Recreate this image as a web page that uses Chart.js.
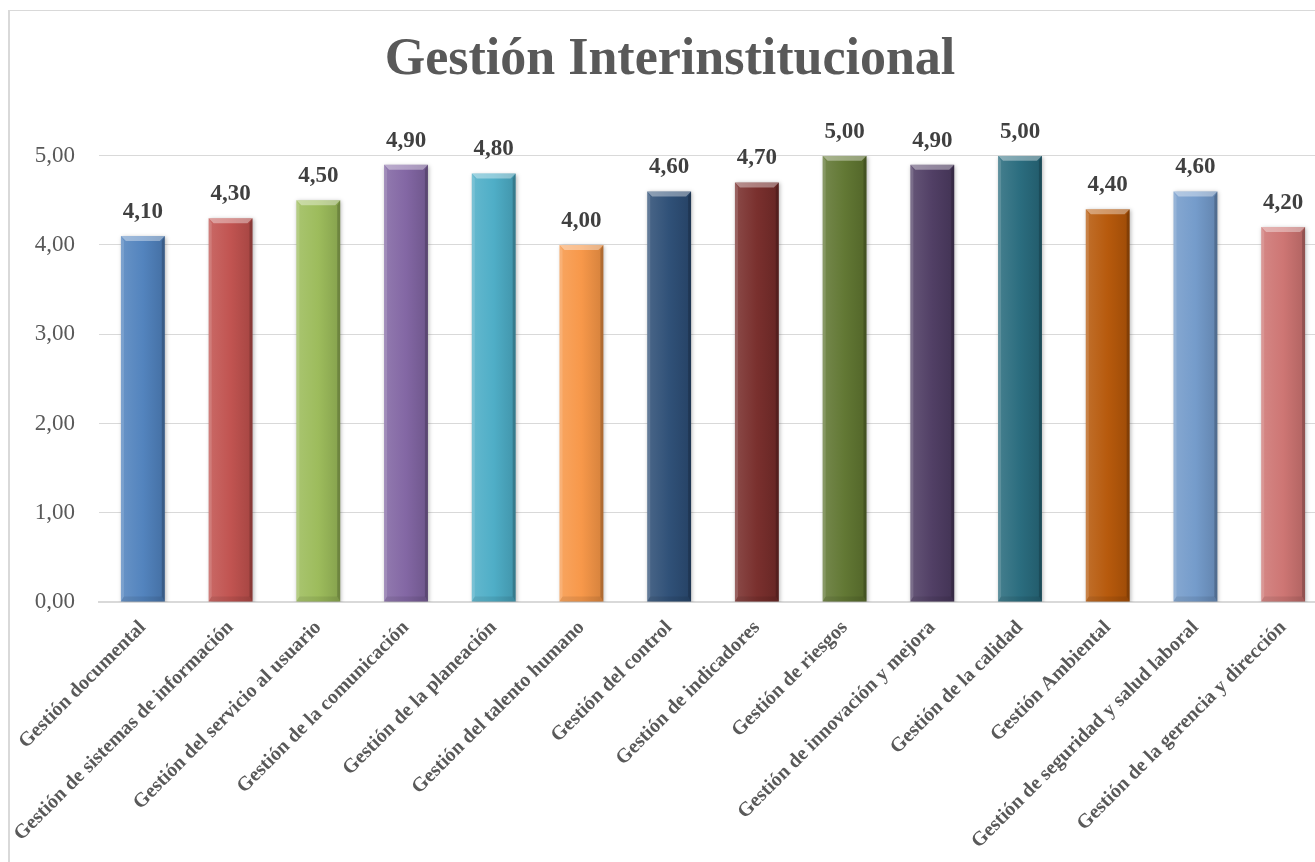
<!DOCTYPE html>
<html>
<head>
<meta charset="utf-8">
<script src="https://cdn.jsdelivr.net/npm/chart.js@4.4.1/dist/chart.umd.min.js"></script>
<style>
  html, body { margin: 0; padding: 0; background: #ffffff; overflow: hidden; width: 1315px; height: 862px; }
  #frame { position: absolute; left: 8px; top: 10px; width: 1400px; height: 900px;
           border-left: 2px solid #d9d9d9; border-top: 1px solid #d9d9d9; box-sizing: border-box; }
  #c { position: absolute; left: 0; top: 0; }
</style>
</head>
<body>
<div id="frame"></div>
<canvas id="c" width="1340" height="862"></canvas>
<script>
const chartTitle = "Gestión Interinstitucional";
const categories = [
  "Gestión documental",
  "Gestión de sistemas de información",
  "Gestión del servicio al usuario",
  "Gestión de la comunicación",
  "Gestión de la planeación",
  "Gestión del talento humano",
  "Gestión del control",
  "Gestión de indicadores",
  "Gestión de riesgos",
  "Gestión de innovación y mejora",
  "Gestión de la calidad",
  "Gestión Ambiental",
  "Gestión de seguridad y salud laboral",
  "Gestión de la gerencia y dirección"
];
const values = [4.10, 4.30, 4.50, 4.90, 4.80, 4.00, 4.60, 4.70, 5.00, 4.90, 5.00, 4.40, 4.60, 4.20];
const barColors = ["#4F81BD", "#C0504D", "#9BBB59", "#8064A2", "#4BACC6", "#F79646",
                   "#2C4D75", "#772C2A", "#5F7530", "#4D3B62", "#276A7C", "#B65708",
                   "#729ACA", "#CD7371"];
const yTicks = [0, 1, 2, 3, 4, 5];

function fmt(v) { return v.toFixed(2).replace('.', ','); }

function shade(hex, amt) {
  const n = parseInt(hex.slice(1), 16);
  let r = (n >> 16) & 255, g = (n >> 8) & 255, b = n & 255;
  if (amt >= 0) { r += (255 - r) * amt; g += (255 - g) * amt; b += (255 - b) * amt; }
  else { r *= (1 + amt); g *= (1 + amt); b *= (1 + amt); }
  return 'rgb(' + Math.round(r) + ',' + Math.round(g) + ',' + Math.round(b) + ')';
}

const SERIF = "'Liberation Serif', 'Times New Roman', serif";

const bevelPlugin = {
  id: 'bevel',
  beforeDatasetsDraw(chart) {
    const ctx = chart.ctx;
    ctx.save();
    ctx.shadowColor = 'rgba(0,0,0,0.28)';
    ctx.shadowBlur = 4;
    ctx.shadowOffsetX = 1;
    ctx.shadowOffsetY = 1;
  },
  afterDatasetsDraw(chart) {
    const ctx = chart.ctx;
    ctx.restore();
    const meta = chart.getDatasetMeta(0);
    meta.data.forEach((bar) => {
      const l = bar.x - bar.width / 2, r = bar.x + bar.width / 2;
      const t = bar.y, b = bar.base, e = 5;
      ctx.save();
      ctx.fillStyle = 'rgba(255,255,255,0.38)';
      ctx.beginPath(); ctx.moveTo(l, t); ctx.lineTo(r, t); ctx.lineTo(r - e, t + e); ctx.lineTo(l + e, t + e); ctx.closePath(); ctx.fill();
      ctx.fillStyle = 'rgba(255,255,255,0.14)';
      ctx.beginPath(); ctx.moveTo(l, t); ctx.lineTo(l + 3, t + e); ctx.lineTo(l + 3, b - e); ctx.lineTo(l, b); ctx.closePath(); ctx.fill();
      ctx.fillStyle = 'rgba(0,0,0,0.18)';
      ctx.beginPath(); ctx.moveTo(r, t); ctx.lineTo(r - 3, t + e); ctx.lineTo(r - 3, b - e); ctx.lineTo(r, b); ctx.closePath(); ctx.fill();
      ctx.fillStyle = 'rgba(0,0,0,0.08)';
      ctx.beginPath(); ctx.moveTo(l, b); ctx.lineTo(r, b); ctx.lineTo(r - 3, b - e); ctx.lineTo(l + 3, b - e); ctx.closePath(); ctx.fill();
      ctx.restore();
    });
  }
};

const valueLabelPlugin = {
  id: 'valueLabels',
  afterDraw(chart) {
    const ctx = chart.ctx;
    const meta = chart.getDatasetMeta(0);
    ctx.save();
    ctx.font = "bold 23px " + SERIF;
    ctx.fillStyle = '#404040';
    ctx.textAlign = 'center';
    ctx.textBaseline = 'middle';
    meta.data.forEach((bar, i) => {
      ctx.fillText(fmt(values[i]), bar.x, bar.y - 24);
    });
    ctx.restore();
  }
};

new Chart(document.getElementById('c'), {
  type: 'bar',
  data: {
    labels: categories,
    datasets: [{
      data: values,
      backgroundColor: (c) => {
        const base = barColors[c.dataIndex] || barColors[0];
        const chart = c.chart;
        if (c.dataIndex === undefined || !chart.chartArea || !chart.scales.x) return base;
        const xs = chart.scales.x;
        const cx = xs.getPixelForValue(c.dataIndex);
        const half = (xs.width / categories.length) * 0.25;
        if (!isFinite(cx) || !isFinite(half)) return base;
        const g = chart.ctx.createLinearGradient(cx - half, 0, cx + half, 0);
        g.addColorStop(0, shade(base, 0.14));
        g.addColorStop(0.5, shade(base, 0.02));
        g.addColorStop(1, shade(base, -0.14));
        return g;
      },
      borderWidth: 0,
      barPercentage: 0.5,
      categoryPercentage: 1.0
    }]
  },
  options: {
    responsive: false,
    animation: false,
    devicePixelRatio: 1,
    layout: { padding: { left: 13, right: 13, top: 0, bottom: 0 } },
    plugins: {
      legend: { display: false },
      tooltip: { enabled: false },
      title: {
        display: true,
        text: chartTitle,
        color: '#595959',
        font: { family: SERIF, size: 52, weight: 'bold', lineHeight: 1.2 },
        padding: { top: 29, bottom: 64.3 }
      }
    },
    scales: {
      x: {
        grid: { display: false, drawTicks: false },
        border: { display: true, color: '#d9d9d9', width: 2 },
        ticks: {
          autoSkip: false,
          maxRotation: 45,
          minRotation: 45,
          padding: 14,
          color: '#595959',
          font: { family: SERIF, size: 20, weight: 'bold' }
        },
        afterFit(scale) { scale.height = 260; }
      },
      y: {
        min: 0,
        max: 5,
        afterBuildTicks(scale) { scale.ticks = yTicks.map(v => ({ value: v })); },
        grid: { color: '#d9d9d9', lineWidth: 1, drawTicks: false },
        border: { display: false },
        ticks: {
          padding: 24,
          color: '#595959',
          font: { family: SERIF, size: 23 },
          callback: (v) => fmt(v)
        },
        afterFit(scale) { scale.width = 86; }
      }
    }
  },
  plugins: [bevelPlugin, valueLabelPlugin]
});
</script>
</body>
</html>
